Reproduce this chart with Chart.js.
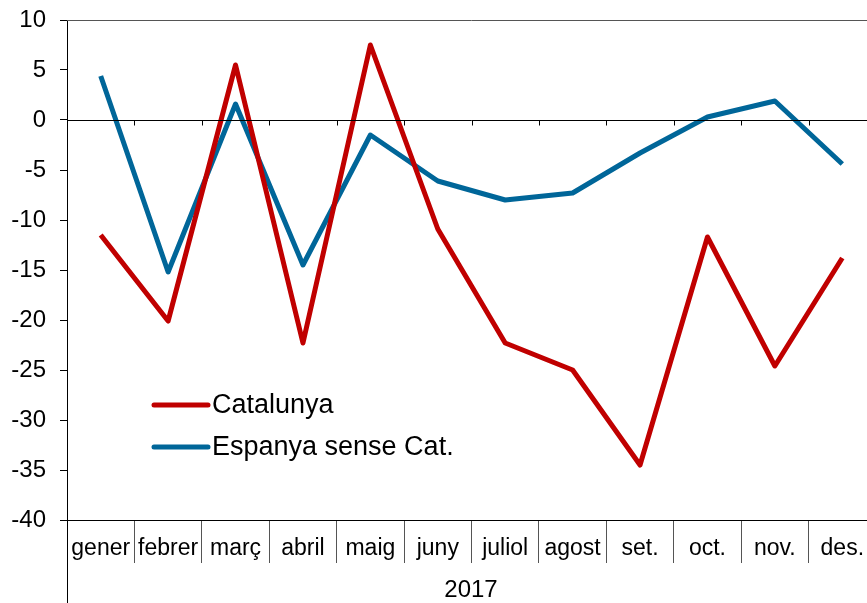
<!DOCTYPE html>
<html>
<head>
<meta charset="utf-8">
<script src="https://cdn.jsdelivr.net/npm/chart.js@4"></script>
<style>
  html, body { margin: 0; padding: 0; background: #fff; overflow: hidden; }
  #wrap { width: 867px; height: 603px; overflow: hidden; }
</style>
</head>
<body>
<div id="wrap"><canvas id="chart" width="876" height="603"></canvas></div>
<script>
// Data
const months = ['gener', 'febrer', 'març', 'abril', 'maig', 'juny', 'juliol', 'agost', 'set.', 'oct.', 'nov.', 'des.'];
const catalunya = [-11.5, -20.1, 5.5, -22.3, 7.5, -10.9, -22.3, -25.0, -34.5, -11.7, -24.6, -13.8];
const espanya = [4.4, -15.2, 1.6, -14.5, -1.5, -6.1, -8.0, -7.3, -3.3, 0.3, 1.9, -4.4];
const yearLabel = '2017';

const FONT = 'Liberation Sans, Arial, sans-serif';

// Extra drawing: top frame, zero line with ticks, year row, legend inside plot
const extras = {
    id: 'extras',
    afterDraw(chart) {
        const ctx = chart.ctx;
        const area = chart.chartArea;
        const x = chart.scales.x;
        const y = chart.scales.y;
        ctx.save();

        // top frame line
        ctx.strokeStyle = '#555';
        ctx.lineWidth = 1;
        ctx.beginPath();
        ctx.moveTo(area.left, area.top + 0.5);
        ctx.lineTo(area.right, area.top + 0.5);
        ctx.stroke();

        // zero line with small ticks at category boundaries
        const y0 = Math.round(y.getPixelForValue(0)) + 0.5;
        ctx.strokeStyle = '#000';
        ctx.beginPath();
        ctx.moveTo(area.left, y0);
        ctx.lineTo(area.right, y0);
        const half = (x.getPixelForValue(1) - x.getPixelForValue(0)) / 2;
        for (let i = 1; i < months.length; i++) {
            const bx = Math.round(x.getPixelForValue(i) - half) + 0.5;
            ctx.moveTo(bx, y0);
            ctx.lineTo(bx, y0 + 5);
        }
        ctx.stroke();

        // left axis continues down through the year row
        ctx.beginPath();
        ctx.moveTo(area.left + 0.5, area.bottom);
        ctx.lineTo(area.left + 0.5, chart.height);
        ctx.stroke();

        // year label
        ctx.fillStyle = '#000';
        ctx.font = '24px ' + FONT;
        ctx.textAlign = 'center';
        ctx.textBaseline = 'middle';
        ctx.fillText(yearLabel, 471, 590);

        // legend
        ctx.font = '27px ' + FONT;
        ctx.textAlign = 'left';
        const rows = [405, 447];
        chart.data.datasets.forEach((ds, i) => {
            ctx.strokeStyle = ds.borderColor;
            ctx.lineWidth = 5;
            ctx.lineCap = 'round';
            ctx.beginPath();
            ctx.moveTo(154, rows[i]);
            ctx.lineTo(208, rows[i]);
            ctx.stroke();
            ctx.fillStyle = '#000';
            ctx.fillText(ds.label, 212, rows[i] + 1);
        });
        ctx.restore();
    }
};

new Chart(document.getElementById('chart'), {
    type: 'line',
    data: {
        labels: months,
        datasets: [
            {
                label: 'Catalunya',
                data: catalunya,
                borderColor: '#C00000',
                borderWidth: 5,
                borderJoinStyle: 'round',
                pointRadius: 0,
                tension: 0
            },
            {
                label: 'Espanya sense Cat.',
                data: espanya,
                borderColor: '#006699',
                borderWidth: 5,
                borderJoinStyle: 'round',
                pointRadius: 0,
                tension: 0
            }
        ]
    },
    options: {
        responsive: false,
        animation: false,
        layout: { padding: { top: 20, right: 0, left: 0, bottom: 0 } },
        plugins: {
            legend: { display: false },
            tooltip: { enabled: false }
        },
        scales: {
            x: {
                offset: true,
                grid: {
                    offset: true,
                    drawOnChartArea: false,
                    tickLength: 43,
                    color: '#555'
                },
                border: { color: '#000', width: 1 },
                ticks: {
                    color: '#000',
                    font: { family: FONT, size: 23 },
                    padding: -28,
                    maxRotation: 0,
                    autoSkip: false
                },
                afterFit(scale) { scale.height = 83; }
            },
            y: {
                min: -40,
                max: 10,
                ticks: {
                    stepSize: 5,
                    color: '#000',
                    font: { family: FONT, size: 24 },
                    padding: 14
                },
                grid: {
                    drawOnChartArea: false,
                    tickLength: 7,
                    color: '#000'
                },
                border: { color: '#000', width: 1 },
                afterFit(scale) {
                    scale.width = 67;
                    scale.paddingTop = 0;
                    scale.paddingBottom = 0;
                }
            }
        }
    },
    plugins: [extras]
});
</script>
</body>
</html>
